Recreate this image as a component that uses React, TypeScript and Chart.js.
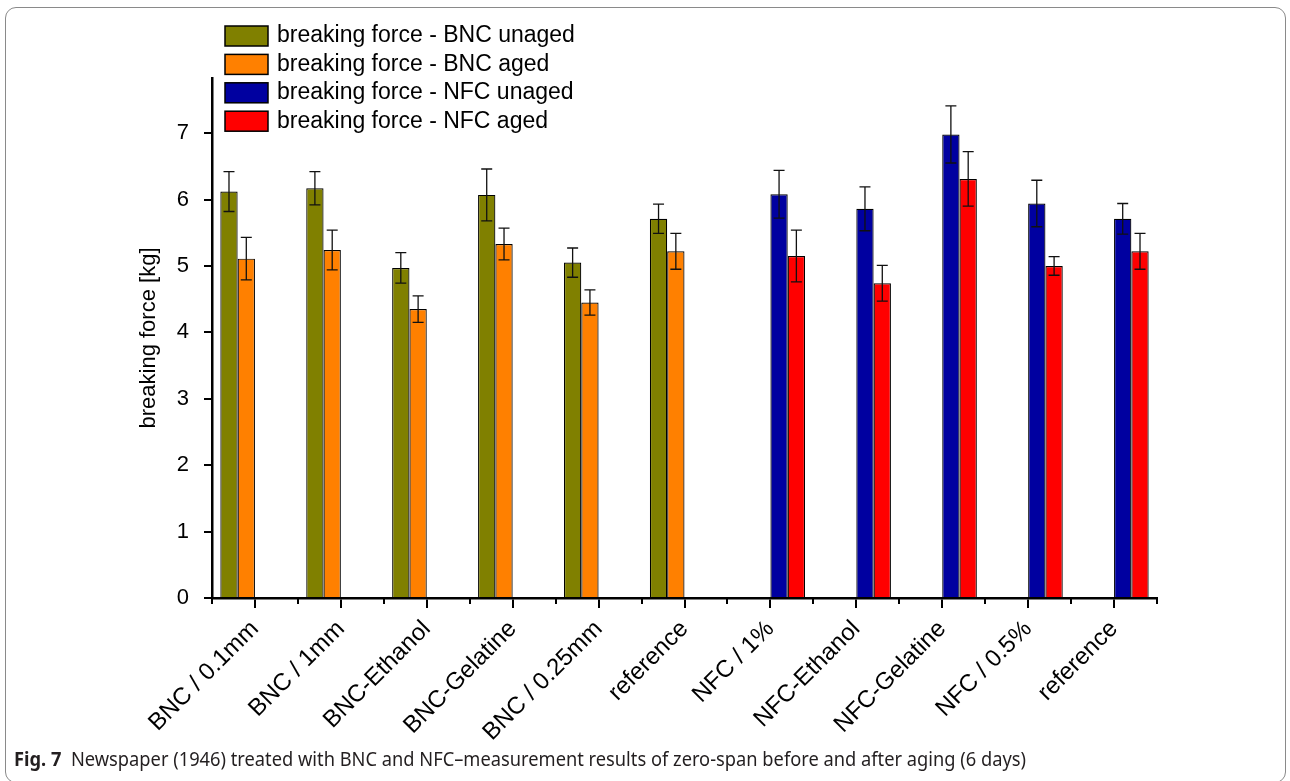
import React, { useEffect, useRef } from 'react';
import { Chart, registerables } from 'chart.js';

Chart.register(...registerables);

const categories = [
  'BNC / 0.1mm', 'BNC / 1mm', 'BNC-Ethanol', 'BNC-Gelatine', 'BNC / 0.25mm', 'reference',
  'NFC / 1%', 'NFC-Ethanol', 'NFC-Gelatine', 'NFC / 0.5%', 'reference',
];

const bncUnaged = [6.12, 6.17, 4.97, 6.07, 5.05, 5.71, null, null, null, null, null];
const bncUnagedErr = [0.3, 0.25, 0.23, 0.39, 0.22, 0.22, null, null, null, null, null];
const bncAged = [5.11, 5.24, 4.35, 5.33, 4.45, 5.22, null, null, null, null, null];
const bncAgedErr = [0.32, 0.3, 0.2, 0.24, 0.19, 0.27, null, null, null, null, null];
const nfcUnaged = [null, null, null, null, null, null, 6.08, 5.86, 6.98, 5.94, 5.71];
const nfcUnagedErr = [null, null, null, null, null, null, 0.36, 0.33, 0.43, 0.35, 0.23];
const nfcAged = [null, null, null, null, null, null, 5.15, 4.74, 6.31, 5.0, 5.22];
const nfcAgedErr = [null, null, null, null, null, null, 0.39, 0.27, 0.41, 0.14, 0.27];

const seriesLabels = [
  'breaking force - BNC unaged',
  'breaking force - BNC aged',
  'breaking force - NFC unaged',
  'breaking force - NFC aged',
];
const seriesColors = ['#808000', '#FF8000', '#0000A0', '#FF0000'];

const yMin = 0;
const yMax = 7.83;
const yStep = 1;

const yTitle = 'breaking force [kg]';
const captionBold = 'Fig. 7';
const captionText =
  'Newspaper (1946) treated with BNC and NFC–measurement results of zero-span before and after aging (6 days)';

const FONT = "'Liberation Sans', Arial, sans-serif";

const errorBarPlugin = {
  id: 'errorBars',
  afterDatasetsDraw(chart: any) {
    const ctx = chart.ctx;
    const yScale = chart.scales.y;
    ctx.save();
    ctx.strokeStyle = '#111';
    ctx.lineWidth = 1.3;
    chart.data.datasets.forEach((ds: any, di: number) => {
      const meta = chart.getDatasetMeta(di);
      meta.data.forEach((el: any, i: number) => {
        const v = ds.data[i];
        const e = ds.errors ? ds.errors[i] : null;
        if (v == null || e == null) return;
        const x = el.x;
        const yt = yScale.getPixelForValue(v + e);
        const yb = yScale.getPixelForValue(v - e);
        const cap = 5.5;
        ctx.beginPath();
        ctx.moveTo(x, yt);
        ctx.lineTo(x, yb);
        ctx.moveTo(x - cap, yt);
        ctx.lineTo(x + cap, yt);
        ctx.moveTo(x - cap, yb);
        ctx.lineTo(x + cap, yb);
        ctx.stroke();
      });
    });
    ctx.restore();
  },
};

const minorTickPlugin = {
  id: 'minorTicks',
  afterDraw(chart: any) {
    const ctx = chart.ctx;
    const xs = chart.scales.x;
    const n = chart.data.labels.length;
    const step = xs.getPixelForValue(1) - xs.getPixelForValue(0);
    const start = xs.getPixelForValue(0) - step / 2;
    const y0 = chart.chartArea.bottom;
    ctx.save();
    ctx.strokeStyle = '#000';
    ctx.lineWidth = 2;
    ctx.beginPath();
    for (let i = 0; i <= n; i++) {
      const x = Math.round(start + i * step);
      ctx.moveTo(x, y0);
      ctx.lineTo(x, y0 + 6);
    }
    ctx.stroke();
    ctx.restore();
  },
};

const legendPlugin = {
  id: 'floatLegend',
  afterDraw(chart: any) {
    const ctx = chart.ctx;
    ctx.save();
    chart.data.datasets.forEach((ds: any, i: number) => {
      const y = 26 + i * 28.4;
      ctx.fillStyle = ds.backgroundColor;
      ctx.fillRect(225, y, 43, 20);
      ctx.strokeStyle = '#000';
      ctx.lineWidth = 1.5;
      ctx.strokeRect(225, y, 43, 20);
      ctx.fillStyle = '#000';
      ctx.font = `23px ${FONT}`;
      ctx.textBaseline = 'middle';
      ctx.textAlign = 'left';
      ctx.fillText(ds.label, 277, y + 10);
    });
    ctx.restore();
  },
};

export default function App() {
  const canvasRef = useRef<HTMLCanvasElement | null>(null);
  const capRef = useRef<HTMLSpanElement | null>(null);

  useEffect(() => {
    if (capRef.current) {
      const w = capRef.current.getBoundingClientRect().width;
      const target = 1012;
      if (w > 0) capRef.current.style.transform = `scaleX(${target / w})`;
    }
    const canvas = canvasRef.current;
    if (!canvas) return;
    const dataArrays = [bncUnaged, bncAged, nfcUnaged, nfcAged];
    const errArrays = [bncUnagedErr, bncAgedErr, nfcUnagedErr, nfcAgedErr];
    const chart = new Chart(canvas, {
      type: 'bar',
      data: {
        labels: categories,
        datasets: dataArrays.map((d, i) => ({
          label: seriesLabels[i],
          data: d,
          errors: errArrays[i],
          backgroundColor: seriesColors[i],
          borderColor: '#000',
          borderWidth: 1.2,
          categoryPercentage: 0.806,
          barPercentage: 1,
        })) as any,
      },
      options: {
        responsive: false,
        animation: false,
        devicePixelRatio: 1,
        layout: { padding: { left: 118, top: 78, right: 133, bottom: 0 } },
        plugins: {
          legend: { display: false },
          tooltip: { enabled: false },
        },
        scales: {
          x: {
            type: 'category',
            offset: true,
            afterFit: (s: any) => {
              s.height = 183;
            },
            grid: {
              display: true,
              offset: false,
              drawOnChartArea: false,
              drawTicks: true,
              tickLength: 10,
              color: '#000',
              lineWidth: 2,
            },
            border: { display: true, color: '#000', width: 2.5 },
            ticks: {
              autoSkip: false,
              maxRotation: 45,
              minRotation: 45,
              color: '#000',
              padding: 7,
              font: { family: FONT, size: 24 },
            },
          },
          y: {
            min: yMin,
            max: yMax,
            afterFit: (s: any) => {
              s.width = 94;
            },
            grid: {
              drawOnChartArea: false,
              drawTicks: true,
              tickLength: 8,
              color: '#000',
              lineWidth: 2,
            },
            border: { display: true, color: '#000', width: 2.5 },
            ticks: {
              stepSize: yStep,
              includeBounds: false,
              color: '#000',
              padding: 15,
              font: { family: FONT, size: 22 },
            },
            title: {
              display: true,
              text: yTitle,
              color: '#000',
              font: { family: FONT, size: 22 },
              padding: { top: 18, bottom: 0 },
            },
          },
        },
      } as any,
      plugins: [errorBarPlugin, minorTickPlugin, legendPlugin],
    });
    return () => chart.destroy();
  }, []);

  return (
    <div
      style={{
        position: 'fixed',
        left: 0,
        top: 0,
        width: 1290,
        height: 781,
        overflow: 'hidden',
        background: '#fff',
      }}
    >
      <div
        style={{
          position: 'absolute',
          left: 5,
          top: 7,
          width: 1281,
          height: 776,
          border: '1.5px solid #8a8a8a',
          borderRadius: 11,
          boxSizing: 'border-box',
        }}
      />
      <canvas
        ref={canvasRef}
        width={1290}
        height={781}
        style={{ position: 'absolute', left: 0, top: 0, width: 1290, height: 781 }}
      />
      <div
        style={{
          position: 'absolute',
          left: 14,
          top: 748,
          whiteSpace: 'nowrap',
          fontFamily: "'Noto Sans', sans-serif",
          fontSize: 19,
          lineHeight: '23px',
          color: '#231f20',
        }}
      >
        <span ref={capRef} style={{ display: 'inline-block', transformOrigin: '0 0' }}>
          <b>{captionBold}</b>
          {'\u00a0\u00a0'}
          {captionText}
        </span>
      </div>
    </div>
  );
}
